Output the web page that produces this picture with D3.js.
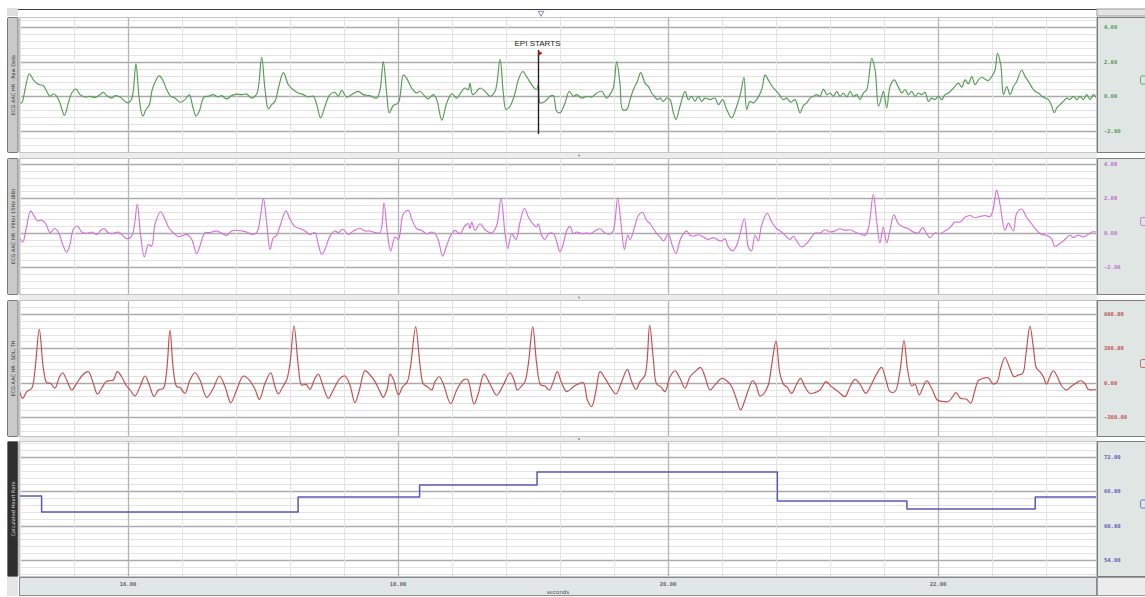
<!DOCTYPE html>
<html><head><meta charset="utf-8">
<script src="https://cdn.jsdelivr.net/npm/d3@7"></script>
<style>body{margin:0;background:#fff;overflow:hidden}svg{display:block}</style>
</head><body><svg id="c" width="1145" height="597"></svg>
<script>
// ---------------- data ----------------
const xTickValues = [16, 18, 20, 22];
const xTickLabels = ["16.00", "18.00", "20.00", "22.00"];
const xAxisTitle = "seconds";
const channelNames = ["ECG AAC HR - Raw Data", "ECG AAC HR - Filter 15Hz (BB)", "ECG AAC HR - SDL, TH", "Calculated Heart Rate"];
const rawTicks = [4, 2, 0, -2];
const rawTickLabels = ["4.00", "2.00", "0.00", "-2.00"];
const filtTicks = [4, 2, 0, -2];
const filtTickLabels = ["4.00", "2.00", "0.00", "-2.00"];
const procTicks = [600, 300, 0, -300];
const procTickLabels = ["600.00", "300.00", "0.00", "-300.00"];
const hrTicks = [72, 66, 60, 54];
const hrTickLabels = ["72.00", "66.00", "60.00", "54.00"];
const markerTime = 19.04;
const markerLabel = "EPI STARTS";

const ecgRaw = [[15.188,-0.29],[15.212,-0.38],[15.237,0.38],[15.269,1.30],[15.299,0.95],[15.324,0.76],[15.348,0.67],[15.373,0.61],[15.398,0.29],[15.422,0],[15.447,0.15],[15.472,0],[15.496,-0.38],[15.529,-1.10],[15.558,-0.38],[15.583,0.19],[15.615,0.42],[15.645,0.10],[15.682,-0.04],[15.719,0],[15.756,-0.06],[15.793,0.10],[15.817,0.23],[15.842,0.04],[15.879,-0.10],[15.904,0.04],[15.941,-0.04],[15.978,-0.29],[16.003,-0.38],[16.027,-0.15],[16.040,0.38],[16.059,1.87],[16.084,-0.19],[16.109,-1.14],[16.133,-0.76],[16.158,-0.48],[16.183,0.48],[16.232,1.18],[16.262,0.86],[16.287,0.38],[16.316,0],[16.348,-0.10],[16.385,-0.34],[16.422,-0.19],[16.454,0.10],[16.479,-0.57],[16.504,-1.14],[16.528,-0.86],[16.563,-0.04],[16.595,0],[16.632,0.10],[16.669,-0.04],[16.694,0.04],[16.731,-0.15],[16.768,0.04],[16.805,0.13],[16.842,0.10],[16.879,0.13],[16.916,-0.10],[16.953,0.13],[16.990,2.25],[17.015,0.38],[17.040,-0.72],[17.064,-0.48],[17.089,-0.29],[17.114,0.48],[17.151,1.37],[17.188,0.67],[17.225,0.38],[17.262,0.19],[17.299,0.10],[17.336,-0.04],[17.373,0],[17.398,-0.48],[17.427,-1.24],[17.459,-0.57],[17.496,0.10],[17.533,0.23],[17.558,0],[17.583,0.34],[17.620,-0.04],[17.657,0.10],[17.706,0.29],[17.743,0.10],[17.792,0.04],[17.842,-0.10],[17.867,0.38],[17.891,2.0],[17.916,0.19],[17.936,-0.95],[17.965,-0.53],[18.002,-0.38],[18.040,1.24],[18.064,1.05],[18.101,0.48],[18.138,0.19],[18.163,0.29],[18.200,0],[18.225,-0.15],[18.262,0.10],[18.287,-0.19],[18.324,-1.37],[18.361,-0.38],[18.398,0.15],[18.435,-0.10],[18.472,0.29],[18.496,0.48],[18.521,0.38],[18.533,0.76],[18.553,0.10],[18.583,0.29],[18.608,0.48],[18.645,0.29],[18.682,0],[18.719,0.29],[18.756,2.13],[18.780,0.19],[18.800,-0.76],[18.830,-0.57],[18.867,0.19],[18.891,0.95],[18.924,1.43],[18.953,1.14],[18.990,0.67],[19.027,0.38],[19.040,0.67],[19.052,-0.38],[19.089,-0.29],[19.126,0],[19.151,0.04],[19.175,-0.86],[19.200,-0.95],[19.237,-0.38],[19.269,0.29],[19.299,0],[19.324,0.10],[19.361,-0.10],[19.398,0],[19.435,-0.04],[19.472,0.19],[19.509,0.29],[19.546,-0.10],[19.570,0.10],[19.595,0.48],[19.620,2.0],[19.645,0.67],[19.664,-0.76],[19.694,-0.76],[19.719,-0.19],[19.743,0.38],[19.773,0.86],[19.798,1.37],[19.830,0.76],[19.854,0.57],[19.879,0.19],[19.904,-0.04],[19.921,-0.19],[19.941,-0.10],[19.965,-0.29],[19.990,-0.10],[20.015,-0.19],[20.040,-0.95],[20.059,-1.33],[20.089,-0.57],[20.126,0.29],[20.151,-0.19],[20.175,0],[20.200,-0.29],[20.225,0],[20.249,-0.29],[20.274,-0.10],[20.311,-0.19],[20.348,-0.10],[20.373,-0.48],[20.405,-0.19],[20.435,-0.76],[20.472,-1.24],[20.509,-0.57],[20.538,0.19],[20.563,1.10],[20.583,-0.76],[20.607,-0.29],[20.632,-0.38],[20.657,-0.19],[20.694,0.38],[20.719,1.24],[20.743,0.95],[20.768,0.61],[20.793,0.38],[20.825,0.10],[20.854,-0.19],[20.879,-0.10],[20.909,-0.34],[20.941,-0.19],[20.978,-0.95],[21.003,-0.53],[21.028,-0.38],[21.052,-0.10],[21.077,0],[21.102,0.10],[21.126,0],[21.151,0.42],[21.176,0.10],[21.201,0.19],[21.225,0],[21.250,0.29],[21.275,0],[21.299,0.19],[21.324,-0.04],[21.349,0.29],[21.373,0],[21.398,0.10],[21.423,-0.19],[21.447,0.19],[21.472,0.38],[21.509,2.19],[21.534,1.52],[21.559,-0.57],[21.583,0],[21.596,0.29],[21.620,-0.67],[21.645,0.57],[21.675,0.95],[21.707,0.53],[21.731,0.19],[21.756,0.38],[21.781,0.10],[21.805,0.29],[21.830,0],[21.855,0.19],[21.880,0.10],[21.904,0.23],[21.929,-0.29],[21.954,-0.10],[21.978,-0.19],[22.003,0],[22.028,-0.19],[22.052,0.10],[22.077,0.19],[22.102,0.38],[22.126,0.57],[22.151,0.76],[22.176,0.53],[22.201,0.95],[22.225,0.72],[22.250,1.14],[22.275,0.67],[22.299,0.95],[22.324,1.10],[22.349,0.99],[22.373,0.91],[22.398,1.14],[22.423,1.52],[22.440,2.48],[22.465,1.81],[22.485,0.10],[22.509,0.57],[22.534,0.10],[22.559,0.57],[22.583,0.86],[22.620,1.52],[22.645,1.14],[22.670,0.86],[22.694,0.53],[22.719,0.29],[22.744,0.19],[22.769,0],[22.793,-0.10],[22.818,-0.19],[22.843,-0.57],[22.860,-0.95],[22.880,-0.67],[22.904,-0.48],[22.929,-0.29],[22.954,-0.10],[22.978,-0.19],[23.003,0],[23.028,-0.19],[23.052,0],[23.077,-0.19],[23.102,0.10],[23.126,-0.19],[23.151,0.10],[23.176,-0.10]];

const ecgFiltered = [[15.188,-0.16],[15.220,-0.55],[15.245,0.20],[15.279,1.27],[15.304,0.98],[15.329,0.69],[15.361,0.73],[15.393,0.49],[15.422,0],[15.459,0.24],[15.491,-0.10],[15.516,-0.69],[15.546,-1.14],[15.570,-0.69],[15.595,0.20],[15.625,0.39],[15.657,0.04],[15.694,-0.04],[15.731,0.04],[15.768,-0.10],[15.793,0.10],[15.822,0.24],[15.854,0],[15.891,-0.04],[15.928,0.04],[15.953,-0.10],[15.990,-0.35],[16.027,-0.20],[16.047,0.39],[16.069,1.67],[16.094,-0.20],[16.121,-1.41],[16.151,-0.69],[16.175,-0.78],[16.200,0.49],[16.242,1.22],[16.274,0.78],[16.306,0.24],[16.336,0],[16.373,-0.24],[16.405,-0.16],[16.435,-0.10],[16.472,-0.39],[16.509,-1.22],[16.533,-0.78],[16.570,0],[16.607,0],[16.657,0.10],[16.694,-0.04],[16.731,-0.16],[16.768,0.10],[16.805,0.14],[16.842,0.10],[16.879,0.04],[16.916,-0.10],[16.953,0],[16.978,0.78],[17.003,2.0],[17.027,0.59],[17.052,-0.98],[17.077,-0.29],[17.101,-0.16],[17.126,0.39],[17.170,1.27],[17.200,0.78],[17.237,0.35],[17.274,0.24],[17.311,0.10],[17.348,-0.10],[17.385,0],[17.410,-0.69],[17.435,-1.27],[17.459,-0.98],[17.496,-0.20],[17.533,0.10],[17.558,0],[17.590,0.20],[17.632,-0.10],[17.669,0.10],[17.718,0.24],[17.755,0.10],[17.792,0.10],[17.830,0],[17.867,0],[17.896,1.73],[17.921,0],[17.946,-1.08],[17.978,-0.25],[18.003,-0.40],[18.015,-0.06],[18.040,1.10],[18.077,1.29],[18.101,0.81],[18.139,0.23],[18.176,0.13],[18.213,-0.06],[18.250,0.04],[18.274,-0.06],[18.299,-0.44],[18.331,-1.37],[18.361,-0.73],[18.398,-0.06],[18.422,0.13],[18.459,-0.06],[18.497,0.42],[18.521,0.52],[18.534,0.23],[18.546,0.62],[18.571,0.13],[18.608,0.52],[18.645,0.17],[18.694,-0.02],[18.731,0.42],[18.763,2.0],[18.793,-0.06],[18.813,-0.92],[18.842,-0.06],[18.874,-0.40],[18.904,0.62],[18.936,1.42],[18.966,0.90],[18.998,0.52],[19.027,0.33],[19.040,0.52],[19.064,-0.15],[19.089,-0.40],[19.114,-0.06],[19.151,-0.06],[19.176,-0.54],[19.200,-1.12],[19.225,-0.63],[19.250,0.13],[19.274,0.37],[19.299,-0.06],[19.324,0.04],[19.361,-0.06],[19.398,-0.02],[19.422,-0.06],[19.459,0.10],[19.496,0.23],[19.534,-0.02],[19.571,-0.06],[19.595,0.13],[19.627,2.02],[19.652,0.52],[19.677,-0.98],[19.701,-0.15],[19.719,-0.40],[19.756,0.42],[19.780,1.0],[19.810,1.19],[19.842,0.71],[19.867,0.52],[19.892,0.23],[19.916,-0.06],[19.941,-0.25],[19.966,-0.48],[20.003,-0.06],[20.027,-0.63],[20.059,-1.21],[20.089,-0.44],[20.114,-0.06],[20.139,0.10],[20.163,-0.15],[20.188,-0.21],[20.225,-0.12],[20.262,-0.25],[20.299,-0.40],[20.336,-0.29],[20.373,-0.44],[20.398,-0.48],[20.422,-0.35],[20.447,-0.83],[20.479,-1.06],[20.509,-0.73],[20.534,-0.06],[20.566,0.81],[20.595,-0.83],[20.619,-1.06],[20.644,-0.15],[20.669,-0.48],[20.693,0.42],[20.735,1.13],[20.768,0.62],[20.805,0.23],[20.842,0.04],[20.879,-0.25],[20.903,-0.40],[20.928,-0.21],[20.953,-0.48],[20.990,-0.83],[21.027,-0.63],[21.064,-0.25],[21.089,-0.02],[21.126,-0.02],[21.163,0.17],[21.200,0.04],[21.237,0.10],[21.274,0.23],[21.311,0.13],[21.348,0.17],[21.385,0.04],[21.422,-0.06],[21.459,-0.15],[21.484,0.23],[21.521,2.25],[21.545,0.71],[21.570,-0.60],[21.595,0.33],[21.619,-0.60],[21.644,0.13],[21.674,1.04],[21.706,0.52],[21.743,0.33],[21.780,0.23],[21.817,0.04],[21.854,-0.02],[21.886,0.29],[21.916,-0.06],[21.940,-0.29],[21.977,-0.02],[22.014,-0.06],[22.051,0.10],[22.088,0.29],[22.125,0.62],[22.163,0.62],[22.200,0.90],[22.237,1.0],[22.274,0.87],[22.311,0.94],[22.348,1.0],[22.385,0.94],[22.409,1.38],[22.434,2.48],[22.459,1.67],[22.496,0.13],[22.521,0.56],[22.558,0.10],[22.582,1.10],[22.619,1.38],[22.656,0.90],[22.693,0.52],[22.730,0.13],[22.767,-0.10],[22.804,-0.15],[22.841,-0.35],[22.866,-0.79],[22.903,-0.63],[22.940,-0.40],[22.977,-0.15],[23.002,-0.29],[23.039,-0.15],[23.076,-0.25],[23.113,-0.10],[23.138,0.04],[23.175,0.04]];

const ecgProcessed = [[15.188,-35],[15.220,-137],[15.250,-79],[15.287,-49],[15.311,111],[15.343,466],[15.373,125],[15.398,0],[15.427,-6],[15.459,-49],[15.491,47],[15.516,87],[15.546,23],[15.583,-64],[15.620,-6],[15.664,67],[15.706,96],[15.743,-6],[15.773,-99],[15.805,-49],[15.837,9],[15.867,17],[15.891,23],[15.921,96],[15.953,52],[15.985,-20],[16.015,-64],[16.052,-116],[16.089,-35],[16.126,58],[16.158,-20],[16.193,-122],[16.225,-64],[16.262,-49],[16.287,111],[16.311,460],[16.336,111],[16.361,-35],[16.385,-41],[16.422,-93],[16.459,23],[16.496,87],[16.533,23],[16.583,-128],[16.632,-49],[16.677,58],[16.719,-35],[16.761,-175],[16.805,-64],[16.854,58],[16.899,23],[16.941,-58],[16.973,-146],[17.015,-6],[17.057,87],[17.089,-35],[17.114,-99],[17.146,-35],[17.175,23],[17.200,169],[17.230,495],[17.262,140],[17.286,-20],[17.319,-15],[17.348,-58],[17.385,38],[17.410,76],[17.442,-20],[17.484,-137],[17.521,-64],[17.570,38],[17.607,58],[17.644,-20],[17.681,-175],[17.714,-64],[17.756,105],[17.793,67],[17.830,9],[17.867,-79],[17.891,-128],[17.921,-49],[17.941,75],[17.966,29],[18.003,-107],[18.035,-35],[18.069,9],[18.094,154],[18.131,487],[18.163,154],[18.188,-12],[18.218,-35],[18.250,-64],[18.274,9],[18.306,52],[18.336,-12],[18.390,-183],[18.435,-64],[18.484,23],[18.514,29],[18.563,-186],[18.595,-93],[18.637,75],[18.682,-12],[18.731,-110],[18.780,-20],[18.830,87],[18.859,23],[18.884,-64],[18.916,-29],[18.941,9],[18.966,168],[18.998,487],[19.027,168],[19.057,-20],[19.089,-29],[19.121,-64],[19.151,9],[19.180,96],[19.213,-6],[19.250,-78],[19.299,-35],[19.336,-12],[19.373,0],[19.403,-151],[19.435,-209],[19.467,-64],[19.497,96],[19.534,38],[19.571,-35],[19.615,-99],[19.657,9],[19.699,116],[19.731,9],[19.763,-58],[19.793,9],[19.830,67],[19.864,502],[19.892,197],[19.916,-12],[19.946,-35],[19.978,-78],[20.015,52],[20.052,104],[20.089,38],[20.126,-49],[20.163,52],[20.200,96],[20.242,133],[20.274,52],[20.311,-64],[20.348,-20],[20.398,38],[20.435,17],[20.472,-35],[20.509,-151],[20.538,-238],[20.570,-151],[20.595,-64],[20.627,17],[20.652,-20],[20.681,-116],[20.711,-93],[20.743,-20],[20.768,154],[20.800,363],[20.829,81],[20.859,-20],[20.884,-41],[20.916,-93],[20.953,-12],[20.982,38],[21.014,-35],[21.051,-93],[21.089,-87],[21.126,-64],[21.170,9],[21.212,-35],[21.261,-78],[21.311,-122],[21.348,-35],[21.385,29],[21.422,-12],[21.466,-93],[21.508,-12],[21.545,75],[21.582,133],[21.614,29],[21.644,-78],[21.681,-78],[21.718,96],[21.748,371],[21.775,110],[21.805,-29],[21.829,-12],[21.861,-107],[21.886,-49],[21.916,17],[21.953,-49],[21.995,-151],[22.039,-165],[22.076,-165],[22.101,-136],[22.133,-87],[22.167,-136],[22.212,-145],[22.242,-180],[22.274,-64],[22.298,17],[22.335,38],[22.372,43],[22.409,-12],[22.439,9],[22.466,133],[22.496,220],[22.528,139],[22.563,52],[22.595,67],[22.627,81],[22.652,255],[22.681,493],[22.706,313],[22.730,125],[22.755,96],[22.780,52],[22.804,-12],[22.829,52],[22.854,104],[22.884,52],[22.916,-29],[22.953,-64],[22.990,-29],[23.027,0],[23.057,17],[23.088,-6],[23.113,-58],[23.175,-58]];

const hrTimes = [15.19, 15.36, 17.26, 18.16, 19.03, 20.81, 21.77, 22.72, 23.18];
const hrValues = [65.2, 62.4, 65.0, 67.1, 69.4, 64.3, 62.9, 65.0, 65.0];

// ---------------- layout ----------------
const L = 19, R = 1097;
const svg = d3.select("#c");
const x = d3.scaleLinear().domain([16, 22]).range([128, 938]);

const panels = [
  {top: 17, bottom: 153, y: d3.scaleLinear().domain([-2, 4]).range([131, 27]), step: 2, ticks: rawTicks, labels: rawTickLabels, color: "#559c55", tcol: "#3f8a3f", data: ecgRaw, curve: d3.curveCatmullRom.alpha(0.5), tab: "#c9c9c9", tabText: "#333"},
  {top: 158, bottom: 295, y: d3.scaleLinear().domain([-2, 4]).range([267, 164]), step: 2, ticks: filtTicks, labels: filtTickLabels, color: "#d672da", tcol: "#c05ac8", data: ecgFiltered, curve: d3.curveCatmullRom.alpha(0.5), tab: "#c9c9c9", tabText: "#333"},
  {top: 300, bottom: 437, y: d3.scaleLinear().domain([-300, 600]).range([417, 314]), step: 300, ticks: procTicks, labels: procTickLabels, color: "#c44c4c", tcol: "#c03a3a", data: ecgProcessed, curve: d3.curveCatmullRom.alpha(0.5), tab: "#c9c9c9", tabText: "#333"},
  {top: 441, bottom: 577, y: d3.scaleLinear().domain([54, 72]).range([560, 457]), step: 6, ticks: hrTicks, labels: hrTickLabels, color: "#5a58b8", tcol: "#4a4ab0", data: null, curve: d3.curveStepAfter, tab: "#2f2f2f", tabText: "#ddd"}
];

// top strip
svg.append("rect").attr("x", 7).attr("y", 8).attr("width", 11).attr("height", 8).attr("fill", "#dedede");
svg.append("line").attr("x1", 18).attr("x2", R + 1).attr("y1", 9.5).attr("y2", 9.5).attr("stroke", "#3a3a3a").attr("stroke-width", 1.2);
svg.append("rect").attr("x", R).attr("y", 9).attr("width", 50).attr("height", 7).attr("fill", "#e4e4e4").attr("stroke", "#9a9a9a");
svg.append("path").attr("d", d3.symbol(d3.symbolTriangle, 14)()).attr("transform", "translate(541,13) rotate(180)").attr("fill", "none").attr("stroke", "#6a6aa8").attr("stroke-width", 0.8);

const minorT = d3.range(15.2, 23.25, 0.4);

panels.forEach((p, i) => {
  const g = svg.append("g");
  const h = p.bottom - p.top;
  g.append("rect").attr("x", L).attr("y", p.top).attr("width", R - L).attr("height", h).attr("fill", "#fff");
  const clipId = "clip" + i;
  svg.append("clipPath").attr("id", clipId).append("rect").attr("x", L).attr("y", p.top).attr("width", R - L).attr("height", h);
  const gg = g.append("g").attr("clip-path", `url(#${clipId})`);
  const vTop = p.y.invert(p.top), vBot = p.y.invert(p.bottom);
  const minor = p.step / 5;
  const hv = d3.range(Math.ceil(vBot / minor) * minor, vTop, minor);
  hv.forEach(v => {
    const isMajor = Math.abs(v / p.step - Math.round(v / p.step)) < 1e-6;
    gg.append("line").attr("x1", L).attr("x2", R).attr("y1", Math.round(p.y(v)) + 0.5).attr("y2", Math.round(p.y(v)) + 0.5)
      .attr("stroke", isMajor ? "#ababab" : "#e3e3e3").attr("stroke-width", isMajor ? 1.3 : 1);
  });
  minorT.forEach(t => {
    const isMajor = Math.abs(t / 2 - Math.round(t / 2)) < 1e-6;
    gg.append("line").attr("y1", p.top).attr("y2", p.bottom).attr("x1", Math.round(x(t)) + 0.5).attr("x2", Math.round(x(t)) + 0.5)
      .attr("stroke", isMajor ? "#b4b4b4" : "#e3e3e3").attr("stroke-width", isMajor ? 1.3 : 1);
  });
  let pts = p.data;
  if (!pts) pts = hrTimes.map((t, k) => [t, hrValues[k]]);
  const line = d3.line().x(d => x(d[0])).y(d => p.y(d[1])).curve(p.curve);
  gg.append("path").attr("d", line(pts)).attr("fill", "none").attr("stroke", p.color).attr("stroke-width", p.data ? 1.15 : 1.5).attr("stroke-linejoin", "round");
  g.append("rect").attr("x", L + 0.5).attr("y", p.top + 0.5).attr("width", R - L - 1).attr("height", h - 1).attr("fill", "none").attr("stroke", "#c4c4c4");
  g.append("rect").attr("x", 7.5).attr("y", p.top + 0.5).attr("width", 10.5).attr("height", h - 1).attr("rx", 1)
    .attr("fill", p.tab).attr("stroke", "#777");
  g.append("text").attr("transform", `translate(13,${(p.top + p.bottom) / 2}) rotate(-90)`)
    .attr("text-anchor", "middle").attr("dominant-baseline", "central")
    .attr("font-family", "DejaVu Sans, sans-serif").attr("font-size", 5).attr("fill", p.tabText).text(channelNames[i]);
  g.append("rect").attr("x", R + 0.5).attr("y", p.top + 0.5).attr("width", 50).attr("height", h - 1)
    .attr("fill", "#dfe6e4").attr("stroke", "#7d7d7d");
  p.ticks.forEach((v, k) => {
    g.append("text").attr("x", R + 7).attr("y", p.y(v)).attr("dominant-baseline", "central")
      .attr("font-family", "DejaVu Sans Mono, monospace").attr("font-size", 5.5).attr("font-weight", "bold")
      .attr("fill", p.tcol).attr("opacity", 0.85).text(p.labels[k]);
  });
  g.append("rect").attr("x", 1140.5).attr("y", (p.top + p.bottom) / 2 - 9).attr("width", 8).attr("height", 8).attr("rx", 1.5)
    .attr("fill", "none").attr("stroke", p.tcol).attr("opacity", 0.7);
  if (i < 3) {
    const nb = panels[i + 1].top;
    svg.append("rect").attr("x", L).attr("y", p.bottom).attr("width", R - L).attr("height", nb - p.bottom).attr("fill", "#ececec");
    svg.append("circle").attr("cx", 579).attr("cy", (p.bottom + nb) / 2).attr("r", 0.9).attr("fill", "#888");
  }
});

// event marker
const mx = Math.round(x(markerTime)) + 0.5;
svg.append("line").attr("x1", mx).attr("x2", mx).attr("y1", 50).attr("y2", 134).attr("stroke", "#222").attr("stroke-width", 1.4);
svg.append("path").attr("d", `M${mx},51 L${mx + 4},53 L${mx},56 Z`).attr("fill", "#b02020");
svg.append("text").attr("x", mx - 1).attr("y", 46).attr("text-anchor", "middle")
  .attr("font-family", "Liberation Sans, Arial, sans-serif").attr("font-size", 8).attr("fill", "#222").text(markerLabel);

// bottom x axis bar
svg.append("rect").attr("x", 7).attr("y", 577).attr("width", 11).attr("height", 19).attr("fill", "#e6e6e6");
svg.append("rect").attr("x", L + 0.5).attr("y", 577.5).attr("width", R - L - 1).attr("height", 18).attr("fill", "#e0e7e6").attr("stroke", "#8a8a8a");
svg.append("rect").attr("x", R + 0.5).attr("y", 577.5).attr("width", 50).attr("height", 18).attr("fill", "#ececec").attr("stroke", "#9a9a9a");
xTickValues.forEach((t, k) => {
  svg.append("text").attr("x", x(t)).attr("y", 584).attr("text-anchor", "middle").attr("dominant-baseline", "central")
    .attr("font-family", "DejaVu Sans Mono, monospace").attr("font-size", 5.5).attr("font-weight", "bold").attr("fill", "#666").text(xTickLabels[k]);
});
svg.append("text").attr("x", 558).attr("y", 592).attr("text-anchor", "middle").attr("dominant-baseline", "central")
  .attr("font-family", "DejaVu Sans, sans-serif").attr("font-size", 5.5).attr("fill", "#555").text(xAxisTitle);
</script></body></html>
